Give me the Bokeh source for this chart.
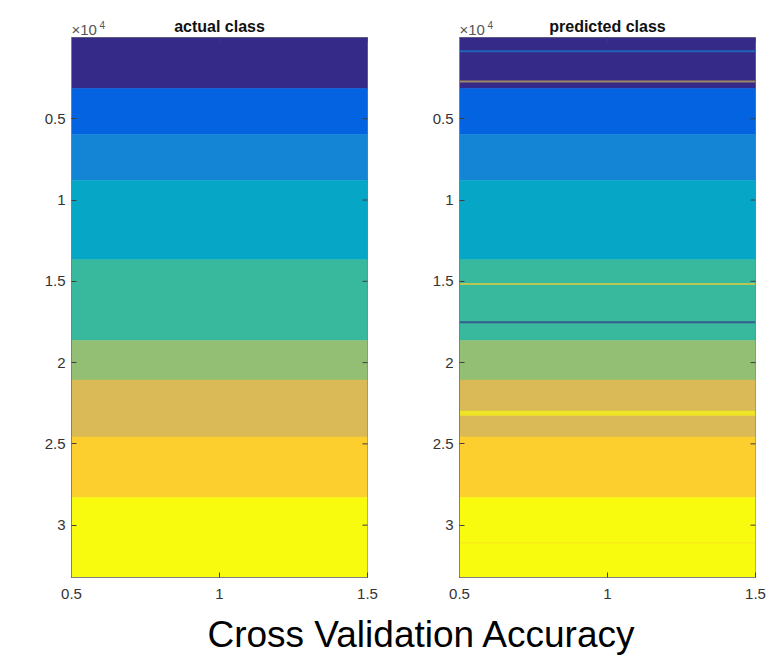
from bokeh.plotting import figure
from bokeh.models import Range1d, FixedTicker, Label, ColumnDataSource
from bokeh.layouts import row, column
from bokeh.embed import file_html
from bokeh.resources import INLINE
import math

# ---- data -------------------------------------------------------------
classes = [1, 2, 3, 4, 5, 6, 7, 8, 9]
band_start = [0.5, 3141, 5963, 8804, 13669, 18638, 21074, 24571, 28294]
band_end = [3141, 5963, 8804, 13669, 18638, 21074, 24571, 28294, 33220.5]
class_colors = ["#352a87", "#0363e1", "#1485d4", "#06a7c6", "#38b99e",
                "#92bf73", "#d9ba56", "#fcce2e", "#f9fb0e"]

# rows whose predicted class differs from the actual class
err_start = [785, 2650, 15100, 17450, 22960, 31060]
err_end = [910, 2775, 15230, 17580, 23270, 31120]
err_class = [3, 7, 8, 1, 9, 8]

x_ticks = [0.5, 1, 1.5]
x_tick_labels = ["0.5", "1", "1.5"]
y_ticks = [5000, 10000, 15000, 20000, 25000, 30000]
y_tick_labels = ["0.5", "1", "1.5", "2", "2.5", "3"]

panel_titles = ["actual class", "predicted class"]
suptitle = "Cross Validation Accuracy"

FONT = "Liberation Sans"
AX_COL = "#808080"
TICK_COL = "#404040"
LBL_COL = "#333333"


def make_panel(with_errors, border_left, border_right):
    p = figure(frame_width=296, frame_height=540, min_border_left=border_left,
               min_border_right=border_right, min_border_top=0, min_border_bottom=30,
               x_range=Range1d(x_ticks[0], x_ticks[-1]),
               y_range=Range1d(band_end[-1], band_start[0]),
               toolbar_location=None, output_backend="svg",
               background_fill_color="white", border_fill_color="white")
    p.outline_line_color = AX_COL
    p.grid.visible = False

    src = ColumnDataSource(dict(top=band_start, bottom=band_end,
                                color=[class_colors[c - 1] for c in classes]))
    p.quad(left=x_ticks[0], right=x_ticks[-1], top="top", bottom="bottom",
           fill_color="color", line_color="color", line_width=0.5, source=src)
    if with_errors:
        esrc = ColumnDataSource(dict(top=err_start, bottom=err_end,
                                     color=[class_colors[c - 1] for c in err_class]))
        p.quad(left=x_ticks[0], right=x_ticks[-1], top="top", bottom="bottom",
               fill_color="color", fill_alpha=0.65, line_color=None, source=esrc)

    # box ticks on the right and top edges (half of each dash is clipped by the frame)
    p.scatter(x=[x_ticks[-1]] * len(y_ticks), y=y_ticks, marker="dash", size=10,
              line_color=TICK_COL, line_width=1)
    p.scatter(x=x_ticks, y=[band_start[0]] * len(x_ticks), marker="dash", size=10,
              angle=math.pi / 2, line_color=TICK_COL, line_width=1)

    for ax in (p.xaxis[0], p.yaxis[0]):
        ax.major_tick_in = 5
        ax.major_tick_out = 0
        ax.minor_tick_line_color = None
        ax.axis_line_color = AX_COL
        ax.major_tick_line_color = TICK_COL
        ax.major_label_text_font = FONT
        ax.major_label_text_font_size = "15px"
        ax.major_label_text_color = LBL_COL
    p.xaxis.ticker = FixedTicker(ticks=x_ticks)
    p.xaxis.major_label_overrides = {t: s for t, s in zip(x_ticks, x_tick_labels)}
    p.xaxis.major_label_standoff = 11
    p.yaxis.ticker = FixedTicker(ticks=y_ticks)
    p.yaxis.major_label_overrides = {t: s for t, s in zip(y_ticks, y_tick_labels)}
    p.yaxis.major_label_standoff = 6
    return p


def make_header(panel, title, border_left, border_right):
    h = figure(frame_width=296, frame_height=37, min_border_left=border_left,
               min_border_right=border_right, min_border_top=0, min_border_bottom=0,
               x_range=panel.x_range, y_range=Range1d(0, 37),
               toolbar_location=None, output_backend="svg",
               x_axis_type=None, y_axis_type=None, outline_line_color=None)
    h.grid.visible = False
    mid = (x_ticks[0] + x_ticks[-1]) / 2
    h.add_layout(Label(x=mid, y=11, text=title, text_align="center",
                       text_baseline="alphabetic", text_font=FONT, text_font_size="16px",
                       text_font_style="bold", text_color="#111111"))
    h.add_layout(Label(x=x_ticks[0], y=8.5, text="\u00d710", text_align="left",
                       text_baseline="alphabetic", text_font=FONT, text_font_size="15px",
                       text_color="#555555"))
    h.add_layout(Label(x=x_ticks[0], y=13, x_offset=28, text="4", text_align="left",
                       text_baseline="alphabetic", text_font=FONT, text_font_size="10px",
                       text_color="#555555"))
    return h


p1 = make_panel(False, 71, 29)
p2 = make_panel(True, 63, 12)
h1 = make_header(p1, panel_titles[0], 71, 29)
h2 = make_header(p2, panel_titles[1], 63, 12)

pt = figure(width=767, height=48, x_range=Range1d(0, 767), y_range=Range1d(0, 48),
            toolbar_location=None, output_backend="svg", x_axis_type=None, y_axis_type=None,
            min_border=0, outline_line_color=None)
pt.grid.visible = False
pt.add_layout(Label(x=421.5, y=21, text=suptitle, text_align="center",
                    text_baseline="alphabetic", text_font=FONT, text_font_size="37px",
                    text_color="black"))

layout = column(row(h1, h2), row(p1, p2), pt)
open("out.html", "w").write(file_html(layout, INLINE))
